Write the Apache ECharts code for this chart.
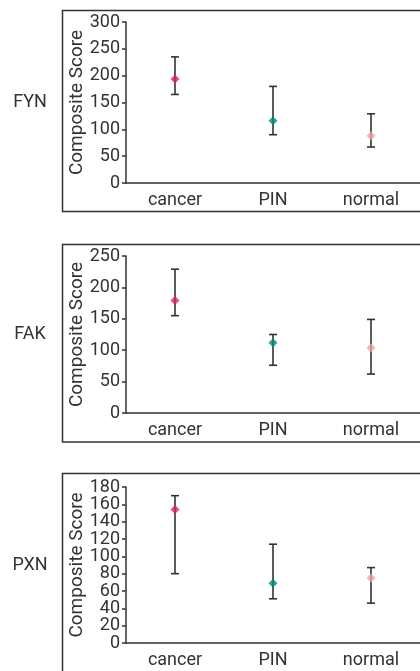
<!DOCTYPE html>
<html>
<head>
<meta charset="utf-8">
<script src="https://cdn.jsdelivr.net/npm/echarts@6/dist/echarts.min.js"></script>
<style>
  html, body { margin: 0; padding: 0; background: #fff; }
  #chart { width: 420px; height: 671px; }
</style>
</head>
<body>
<div id="chart"></div>
<script>
// categories and panels
const categories = ['cancer', 'PIN', 'normal']
const genes = ['FYN', 'FAK', 'PXN']
const markerColors = ['#dc1f68', '#00897b', '#eea0a6']

// values (mean, lower and upper ends of the bar)
const fynMean = [194, 116, 88]
const fynLow = [165, 90, 67]
const fynHigh = [235, 180, 129]

const fakMean = [179, 112, 104]
const fakLow = [155, 76, 62]
const fakHigh = [229, 125, 149]

const pxnMean = [154, 69, 75]
const pxnLow = [80, 51, 46]
const pxnHigh = [170, 114, 87]

// y axis ranges
const yMax = [300, 250, 180]
const yStep = [50, 50, 20]
// PXN tick labels sit too close for the axis to keep them all, drawn by a series instead
const pxnTicks = [0, 20, 40, 60, 80, 100, 120, 140, 160, 180]

const means = [fynMean, fakMean, pxnMean]
const lows = [fynLow, fakLow, pxnLow]
const highs = [fynHigh, fakHigh, pxnHigh]

const FONT = 'Roboto'
const INK = '#333'
const LABEL_SIZE = 18

const gridTops = [22, 256, 487]
const gridHeights = [161, 157, 156]
const boxes = [[10.5, 201], [244.5, 197.5], [473.5, 250]]

const chart = echarts.init(document.getElementById('chart'))

const grids = gridTops.map((top, i) => ({ left: 126, top: top, width: 300, height: gridHeights[i] }))

const xAxes = genes.map((g, i) => ({
  type: 'category',
  gridIndex: i,
  data: categories,
  boundaryGap: true,
  axisLine: { lineStyle: { color: INK, width: 1.5 } },
  axisTick: { inside: true, length: 4, lineStyle: { color: INK, width: 1.5 } },
  axisLabel: { color: INK, fontFamily: FONT, fontSize: LABEL_SIZE, margin: 8 },
  splitLine: { show: false },
}))

const yAxes = genes.map((g, i) => ({
  type: 'value',
  gridIndex: i,
  min: 0,
  max: yMax[i],
  interval: yStep[i],
  name: 'Composite Score',
  nameLocation: 'middle',
  nameGap: 39,
  nameMoveOverlap: false,
  nameTextStyle: { color: INK, fontFamily: FONT, fontSize: 19 },
  axisLine: { show: true, lineStyle: { color: INK, width: 1.5 } },
  axisTick: { show: true, length: 4, lineStyle: { color: INK, width: 1.5 } },
  axisLabel: {
    show: i !== 2,
    color: INK,
    fontFamily: FONT,
    fontSize: LABEL_SIZE,
    margin: 6,
  },
  splitLine: { show: false },
}))

// error bar drawing
const renderErrorBar = (params, api) => {
  const x = api.value(0)
  const lo = api.coord([x, api.value(1)])
  const hi = api.coord([x, api.value(2)])
  const half = 4
  const style = { stroke: INK, lineWidth: 1.6 }
  return {
    type: 'group',
    children: [
      { type: 'line', shape: { x1: hi[0], y1: hi[1], x2: lo[0], y2: lo[1] }, style: style },
      { type: 'line', shape: { x1: hi[0] - half, y1: hi[1], x2: hi[0] + half, y2: hi[1] }, style: style },
      { type: 'line', shape: { x1: lo[0] - half, y1: lo[1], x2: lo[0] + half, y2: lo[1] }, style: style },
    ],
  }
}

// tick label placed by the y scale, to the left of the axis
const renderTickLabel = (params, api) => {
  const v = api.value(0)
  const p = api.coord([0, v])
  return {
    type: 'text',
    x: params.coordSys.x - 6,
    y: p[1],
    style: {
      text: String(v),
      fill: INK,
      font: LABEL_SIZE + 'px ' + FONT,
      textAlign: 'right',
      textVerticalAlign: 'middle',
    },
  }
}

const series = []
genes.forEach((g, i) => {
  series.push({
    type: 'custom',
    xAxisIndex: i,
    yAxisIndex: i,
    renderItem: renderErrorBar,
    data: categories.map((c, k) => [k, lows[i][k], highs[i][k]]),
    z: 2,
  })
  series.push({
    type: 'scatter',
    xAxisIndex: i,
    yAxisIndex: i,
    symbol: 'diamond',
    symbolSize: 9,
    data: categories.map((c, k) => ({
      value: [k, means[i][k]],
      itemStyle: { color: markerColors[k] },
    })),
    z: 3,
  })
})

series.push({
  type: 'custom',
  xAxisIndex: 2,
  yAxisIndex: 2,
  renderItem: renderTickLabel,
  encode: { y: 0 },
  data: pxnTicks.map(t => [t]),
  silent: true,
  clip: false,
})

// panel frames and gene labels
const graphics = []
boxes.forEach((b, i) => {
  graphics.push({
    type: 'rect',
    shape: { x: 62.5, y: b[0], width: 400, height: b[1] },
    style: { fill: 'none', stroke: INK, lineWidth: 1.5 },
    silent: true,
  })
  graphics.push({
    type: 'text',
    x: 30,
    y: gridTops[i] + gridHeights[i] / 2,
    style: {
      text: genes[i],
      fill: INK,
      font: '18px ' + FONT,
      textAlign: 'center',
      textVerticalAlign: 'middle',
    },
  })
})

chart.setOption({
  backgroundColor: '#fff',
  animation: false,
  grid: grids,
  xAxis: xAxes,
  yAxis: yAxes,
  series: series,
  graphic: graphics,
})
</script>
</body>
</html>
